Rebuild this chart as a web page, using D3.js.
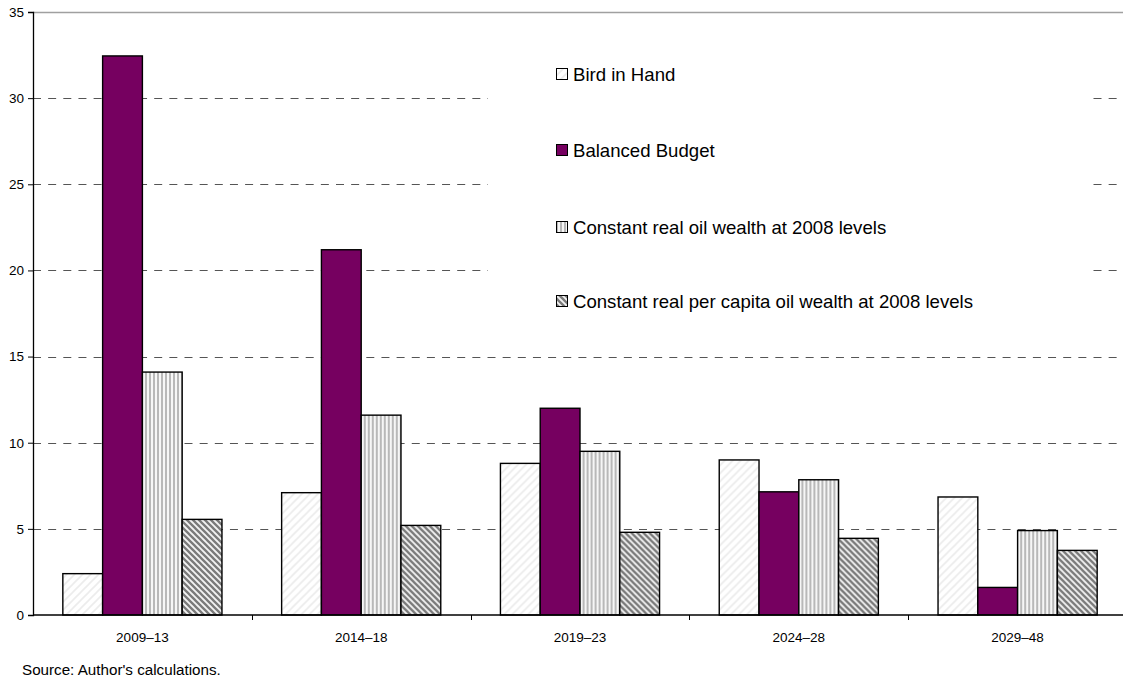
<!DOCTYPE html>
<html>
<head>
<meta charset="utf-8">
<script src="https://cdn.jsdelivr.net/npm/d3@7"></script>
<style>
  html, body { margin: 0; padding: 0; background: #fff; }
  svg { display: block; font-family: "Liberation Sans", Arial, sans-serif; }
</style>
</head>
<body>
<svg id="chart" width="1123" height="679"></svg>
<script>
// Five-year periods on the horizontal axis
const periods = ["2009\u201313", "2014\u201318", "2019\u201323", "2024\u201328", "2029\u201348"];

// Spending-rule scenarios (legend order)
const seriesNames = [
  "Bird in Hand",
  "Balanced Budget",
  "Constant real oil wealth at 2008 levels",
  "Constant real per capita oil wealth at 2008 levels"
];

// Values by scenario, one per period
const birdInHand      = [2.4, 7.1, 8.8, 9.0, 6.85];
const balancedBudget  = [32.45, 21.2, 12.0, 7.15, 1.6];
const constantReal    = [14.1, 11.6, 9.5, 7.85, 4.9];
const constantPerCap  = [5.55, 5.2, 4.8, 4.45, 3.75];

const yTicks = [0, 5, 10, 15, 20, 25, 30, 35];

const seriesValues = [birdInHand, balancedBudget, constantReal, constantPerCap];

const svg = d3.select("#chart");
const margin = { left: 33, top: 12, right: 1127, bottom: 615 };

// Fill patterns
const defs = svg.append("defs");

// light diagonal hatch for the first scenario
const p0 = defs.append("pattern").attr("id", "pat0").attr("patternUnits", "userSpaceOnUse")
  .attr("width", 8).attr("height", 8);
p0.append("rect").attr("width", 8).attr("height", 8).attr("fill", "#fff");
p0.append("path").attr("d", "M-2,2 L2,-2 M0,8 L8,0 M6,10 L10,6")
  .attr("stroke", "#ececec").attr("stroke-width", 1.6);

// vertical stripes
const p2 = defs.append("pattern").attr("id", "pat2").attr("patternUnits", "userSpaceOnUse")
  .attr("width", 4).attr("height", 4);
p2.append("rect").attr("width", 4).attr("height", 4).attr("fill", "#f6f6f6");
p2.append("rect").attr("x", 0).attr("width", 2).attr("height", 4).attr("fill", "#b8b8b8");

// dark diagonal stripes
const p3 = defs.append("pattern").attr("id", "pat3").attr("patternUnits", "userSpaceOnUse")
  .attr("width", 6).attr("height", 6);
p3.append("rect").attr("width", 6).attr("height", 6).attr("fill", "#f2f2f2");
p3.append("path").attr("d", "M-1.5,4.5 L1.5,7.5 M0,0 L6,6 M4.5,-1.5 L7.5,1.5")
  .attr("stroke", "#7a7a7a").attr("stroke-width", 2.3);

const fills = ["url(#pat0)", "#760060", "url(#pat2)", "url(#pat3)"];

const x0 = d3.scaleBand().domain(periods).range([margin.left, margin.right]).padding(0);
const x1 = d3.scaleBand().domain(d3.range(seriesNames.length))
  .range([0, x0.bandwidth()]).paddingInner(0).paddingOuter(0.75);
const y = d3.scaleLinear().domain([0, 35]).range([margin.bottom, margin.top]);

// dashed gridlines
svg.append("g").selectAll("line")
  .data(yTicks.filter(t => t > 0 && t < 35))
  .join("line")
  .attr("x1", margin.left).attr("x2", 1123)
  .attr("y1", d => Math.round(y(d)) + 0.5).attr("y2", d => Math.round(y(d)) + 0.5)
  .attr("stroke", "#555").attr("stroke-width", 1).attr("stroke-dasharray", "8,7.15");

// top frame line
svg.append("line")
  .attr("x1", margin.left).attr("x2", 1123)
  .attr("y1", Math.round(y(35)) + 0.5).attr("y2", Math.round(y(35)) + 0.5)
  .attr("stroke", "#a0a0a0").attr("stroke-width", 1.5);

// legend panel sits over the gridlines
const legend = svg.append("g");
legend.append("rect").attr("x", 488).attr("y", 40).attr("width", 604).attr("height", 295).attr("fill", "#fff");
const legY = [74, 150, 227, 301];
seriesNames.forEach((name, i) => {
  legend.append("rect").attr("x", 556.5).attr("y", legY[i] - 5.5).attr("width", 11).attr("height", 11)
    .attr("fill", fills[i]).attr("stroke", "#000").attr("stroke-width", 1);
  legend.append("text").attr("x", 573).attr("y", legY[i]).attr("dy", "0.36em")
    .attr("font-size", 18.6).attr("fill", "#000").text(name);
});

// bars
const groups = svg.append("g").selectAll("g")
  .data(periods)
  .join("g")
  .attr("transform", d => `translate(${x0(d)},0)`);

groups.selectAll("rect")
  .data((d, pi) => seriesValues.map((vals, si) => ({ si, v: vals[pi] })))
  .join("rect")
  .attr("x", d => x1(d.si))
  .attr("width", x1.bandwidth())
  .attr("y", d => y(d.v))
  .attr("height", d => y(0) - y(d.v))
  .attr("fill", d => fills[d.si])
  .attr("stroke", "#000")
  .attr("stroke-width", 1.4);

// y axis
const yAxis = d3.axisLeft(y).tickValues(yTicks).tickSize(5).tickPadding(4);
const gy = svg.append("g").attr("transform", `translate(${margin.left},0)`).call(yAxis);
gy.select(".domain").attr("stroke", "#000").attr("stroke-width", 1.3);
gy.selectAll(".tick line").attr("stroke", "#000");
gy.selectAll("text").attr("font-size", 13.5).attr("font-family", "Liberation Sans, Arial, sans-serif").attr("fill", "#000");

// x axis
const gx = svg.append("g").attr("transform", `translate(0,${margin.bottom})`);
gx.append("line").attr("x1", margin.left).attr("x2", 1123).attr("y1", 0).attr("y2", 0)
  .attr("stroke", "#000").attr("stroke-width", 1.3);
gx.selectAll("line.tk")
  .data(periods.slice(1))
  .join("line").attr("class", "tk")
  .attr("x1", d => Math.round(x0(d)) + 0.5).attr("x2", d => Math.round(x0(d)) + 0.5)
  .attr("y1", 0).attr("y2", 5).attr("stroke", "#000");
gx.selectAll("text")
  .data(periods)
  .join("text")
  .attr("x", d => x0(d) + x0.bandwidth() / 2)
  .attr("y", 27)
  .attr("text-anchor", "middle")
  .attr("font-size", 13.5).attr("fill", "#000")
  .text(d => d);

// source note
svg.append("text").attr("x", 22).attr("y", 675).attr("font-size", 15.2).attr("fill", "#000")
  .text("Source: Author's calculations.");
</script>
</body>
</html>
